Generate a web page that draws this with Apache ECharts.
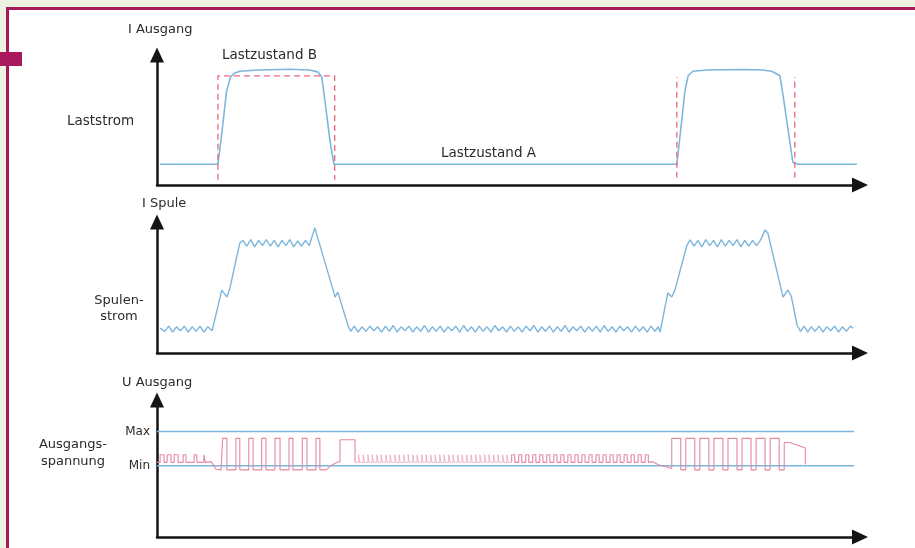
<!DOCTYPE html>
<html>
<head>
<meta charset="utf-8">
<script src="https://cdn.jsdelivr.net/npm/echarts@6/dist/echarts.min.js"></script>
<style>
  html, body { margin: 0; padding: 0; background: #eef2e2; }
  #chart { width: 915px; height: 548px; }
</style>
</head>
<body>
<div id="chart"></div>
<script>
// Shared time axis (arbitrary units)
const T_MAX = 180;

// I Ausgang: load current
const loadCurrent = [
  [0.8,1.6],[15.6,1.6],[16.6,4.0],[17.8,7.2],[18.8,8.3],[19.8,8.6],[21.2,8.75],[26,8.85],[34,8.9],[39,8.85],
  [41.2,8.7],[42.2,8.3],[43.2,6.0],[44.3,3.4],[45.3,1.6],
  [133.1,1.6],[134.0,4.0],[135.2,7.3],[136.0,8.4],[137.2,8.75],[141,8.85],[150,8.88],[155,8.85],[157.4,8.75],
  [159.5,8.4],[160.5,6.5],[161.7,4.0],[162.8,1.75],[164.1,1.6],[179.2,1.6]
];
// Load state B windows (dashed outline)
const stateB1 = [[15.6,0.4],[15.6,8.4],[45.5,8.4],[45.5,0.4]];
const stateB2Start = [[133.1,0.55],[133.1,8.3]];
const stateB2End = [[163.3,0.55],[163.3,8.3]];

// I Spule: coil current with switching ripple
const coilCurrent = [
  [0.8,1.9],[1,2.0],[2,1.65],[3,2.05],[4,1.6],[5,2.0],[6,1.7],[7,2.05],[8,1.6],[9,2.0],[10,1.65],[11,2.05],[12,1.6],[13,2.0],[14.1,1.7],
  [16.6,4.8],[17.9,4.27],[18.7,5.0],[21.2,8.4],
  [22,8.6],[23,8.15],[24,8.65],[25,8.1],[26,8.6],[27,8.2],[28,8.65],[29,8.15],[30,8.6],[31,8.1],[32,8.6],[33,8.2],
  [34,8.65],[35,8.1],[36,8.55],[37,8.15],[38,8.6],[39,8.2],[40.4,9.55],
  [45.1,4.8],[45.6,4.27],[46.3,4.65],[48.9,2.1],
  [49.6,1.65],[50.5,2.05],[51.5,1.6],[52.5,2.0],[53.5,1.65],[54.5,2.05],[55.5,1.7],[56.5,2.0],[57.5,1.6],[58.5,2.05],
  [59.5,1.65],[60.5,2.1],[61.5,1.6],[62.5,2.0],[63.5,1.7],[64.5,2.05],[65.5,1.6],[66.5,2.0],[67.5,1.65],[68.5,2.1],
  [69.5,1.6],[70.5,2.0],[71.5,1.65],[72.5,2.05],[73.5,1.6],[74.5,2.0],[75.5,1.7],[76.5,2.05],[77.5,1.6],[78.5,2.1],
  [79.5,1.65],[80.5,2.0],[81.5,1.6],[82.5,2.05],[83.5,1.65],[84.5,2.0],[85.5,1.6],[86.5,2.1],[87.5,1.7],[88.5,2.0],
  [89.5,1.6],[90.5,2.05],[91.5,1.65],[92.5,2.0],[93.5,1.6],[94.5,2.05],[95.5,1.7],[96.5,2.1],[97.5,1.6],[98.5,2.0],
  [99.5,1.65],[100.5,2.05],[101.5,1.6],[102.5,2.0],[103.5,1.65],[104.5,2.1],[105.5,1.6],[106.5,2.0],[107.5,1.7],[108.5,2.05],
  [109.5,1.6],[110.5,2.0],[111.5,1.65],[112.5,2.05],[113.5,1.6],[114.5,2.1],[115.5,1.65],[116.5,2.0],[117.5,1.6],[118.5,2.05],
  [119.5,1.7],[120.5,2.0],[121.5,1.6],[122.5,2.05],[123.5,1.65],[124.5,2.0],[125.5,1.6],[126.5,2.05],[127.5,1.65],[128.3,2.0],
  [128.8,1.6],[130.8,4.58],[131.8,4.27],[132.6,4.8],[135.7,8.24],[136.5,8.63],
  [137.5,8.15],[138.5,8.6],[139.5,8.1],[140.5,8.65],[141.5,8.2],[142.5,8.6],[143.5,8.1],[144.5,8.65],[145.5,8.15],[146.5,8.6],
  [147.5,8.2],[148.5,8.65],[149.5,8.1],[150.5,8.6],[151.5,8.15],[152.5,8.6],[153.5,8.2],[154.5,8.6],[155.7,9.4],
  [156.4,9.16],[160.3,4.27],[161.5,4.8],[162.4,4.35],[163.9,2.1],
  [164.8,1.65],[165.7,2.05],[166.6,1.6],[167.5,2.0],[168.5,1.65],[169.5,2.05],[170.5,1.6],[171.5,2.0],[172.5,1.7],
  [173.5,2.05],[174.5,1.6],[175.5,2.0],[176.5,1.65],[177.5,2.05],[178.2,1.9]
];

// U Ausgang: output voltage window limits
const uMax = 7.7;
const uMin = 5.2;
const limitSpan = [0, 178.5];

// Output voltage PWM: pulse lists as [rise, fall] times with their levels
const idleLo = 5.45, idleHi = 6.0;
const burstLo = 4.9, burstHi = 7.2;
const idlePulsesA = [[0.8,1.8],[2.6,3.6],[4.4,5.4],[6.7,7.4],[9.5,10.2],[12.0,12.4]];
const leadInA = [[13.9,5.5],[15.1,4.95],[16.4,4.9]];
const burstPulsesA = [[16.8,17.9],[20.2,21.2],[23.5,24.6],[26.8,27.9],[30.2,31.5],[33.8,34.8],[37.2,38.4],[40.7,41.7]];
const tailA = [[43.3,4.9],[44.8,5.26],[46.3,5.47],[46.85,5.47],[46.85,7.1],[50.7,7.1],[50.7,5.47]];
// short idle pulses, drawn fainter
const idlePulsesB = [
  [51.6,51.9],[52.8,53.1],[54.0,54.3],[55.1,55.4],[56.3,56.6],[57.4,57.7],[58.6,58.9],[59.7,60.0],[60.9,61.2],[62.0,62.3],
  [63.2,63.5],[64.3,64.6],[65.5,65.8],[66.6,66.9],[67.8,68.1],[68.9,69.2],[70.1,70.4],[71.2,71.5],[72.4,72.7],[73.5,73.8],
  [74.7,75.0],[75.8,76.1],[77.0,77.3],[78.1,78.4],[79.3,79.6],[80.4,80.7],[81.6,81.9],[82.7,83.0],[83.9,84.2],[85.0,85.3],
  [86.2,86.5],[87.3,87.6],[88.5,88.8],[89.6,89.9]
];
const idlePulsesC = [
  [90.8,91.6],[92.6,93.4],[94.4,95.2],[96.2,97.0],[98.0,98.8],[99.8,100.6],[101.6,102.4],[103.4,104.2],[105.2,106.0],
  [107.0,107.8],[108.8,109.6],[110.6,111.4],[112.4,113.2],[114.2,115.0],[116.0,116.8],[117.8,118.6],[119.6,120.4],
  [121.4,122.2],[123.2,124.0],[125.0,125.8]
];
const leadInB = [[126.8,5.5],[128.6,5.25],[131.8,5.0]];
const burstPulsesB = [[131.8,134.1],[135.4,137.7],[139.0,141.3],[142.6,144.9],[146.2,148.5],[149.8,152.1],[153.4,155.7],[157.0,159.3]];
const tailB = [[160.6,4.9],[160.6,6.9],[162.0,6.9],[166.0,6.5],[166.0,5.3]];

function pulseTrain(pulses, lo, hi) {
  const pts = [];
  pulses.forEach(([up, down]) => {
    pts.push([up, lo], [up, hi], [down, hi], [down, lo]);
  });
  return pts;
}

const voltageA = [].concat(
  [[0.0, idleLo]],
  pulseTrain(idlePulsesA, idleLo, idleHi),
  leadInA,
  pulseTrain(burstPulsesA, burstLo, burstHi),
  tailA
);
const voltageB = [].concat([[50.7, idleLo]], pulseTrain(idlePulsesB, idleLo, idleHi), [[90.8, idleLo]]);
const voltageC = [].concat(
  pulseTrain(idlePulsesC, idleLo, idleHi),
  leadInB,
  pulseTrain(burstPulsesB, burstLo, burstHi),
  tailB
);

const BLUE = '#7db6dc';
const RED = '#e8687f';
const PINK = '#e486a5';
const AXIS = '#141414';
const TEXT = '#2b2b2b';
const FONT = 'DejaVu Sans';

const grids = [
  { left: 157, right: 55, top: 55, bottom: 363 },
  { left: 157, right: 55, top: 222, bottom: 195 },
  { left: 157, right: 55, top: 400, bottom: 11 }
];

function xAxisFor(i) {
  return {
    type: 'value', gridIndex: i, min: 0, max: T_MAX,
    axisLine: { show: true, onZero: false, symbol: ['none', 'triangle'], symbolSize: [15, 16],
      lineStyle: { color: AXIS, width: 2.5 } },
    axisTick: { show: false }, axisLabel: { show: false }, splitLine: { show: false }
  };
}
function yAxisFor(i, extra) {
  return Object.assign({
    type: 'value', gridIndex: i, min: 0, max: 10,
    axisLine: { show: true, onZero: false, symbol: ['none', 'triangle'], symbolSize: [14, 15],
      lineStyle: { color: AXIS, width: 2.5 } },
    axisTick: { show: false }, axisLabel: { show: false }, splitLine: { show: false }
  }, extra || {});
}

const lineBase = { type: 'line', showSymbol: false, symbol: 'none', silent: true, animation: false };

const option = {
  backgroundColor: '#eef2e2',
  animation: false,
  grid: grids,
  xAxis: [xAxisFor(0), xAxisFor(1), xAxisFor(2)],
  yAxis: [
    yAxisFor(0),
    yAxisFor(1),
    yAxisFor(2, {
      axisLabel: {
        show: true, customValues: [uMin, uMax], margin: 7,
        color: TEXT, fontFamily: FONT, fontSize: 12,
        formatter: v => (v === uMax ? 'Max' : 'Min')
      }
    })
  ],
  graphic: [
    { type: 'rect', z: -10, shape: { x: 8, y: 8, width: 920, height: 560 }, style: { fill: '#ffffff' } },
    { type: 'rect', z: -9, shape: { x: 7, y: 7, width: 915, height: 3 }, style: { fill: '#a8195c' } },
    { type: 'rect', z: -9, shape: { x: 6, y: 7, width: 3, height: 545 }, style: { fill: '#a8195c' } },
    { type: 'rect', z: -9, shape: { x: 0, y: 52, width: 22, height: 14 }, style: { fill: '#a8195c' } },
    { type: 'text', left: 128, top: 23, style: { text: 'I Ausgang', font: '13px "DejaVu Sans"', fill: TEXT } },
    { type: 'text', left: 222, top: 48, style: { text: 'Lastzustand B', font: '13.5px "DejaVu Sans"', fill: TEXT } },
    { type: 'text', left: 441, top: 146, style: { text: 'Lastzustand A', font: '13.5px "DejaVu Sans"', fill: TEXT } },
    { type: 'text', left: 67, top: 114, style: { text: 'Laststrom', font: '13.5px "DejaVu Sans"', fill: TEXT } },
    { type: 'text', left: 142, top: 197, style: { text: 'I Spule', font: '13px "DejaVu Sans"', fill: TEXT } },
    { type: 'text', x: 119, y: 293, style: { text: 'Spulen-\nstrom', font: '13px "DejaVu Sans"', fill: TEXT, align: 'center', lineHeight: 16 } },
    { type: 'text', left: 122, top: 376, style: { text: 'U Ausgang', font: '13px "DejaVu Sans"', fill: TEXT } },
    { type: 'text', x: 73, y: 436, style: { text: 'Ausgangs-\nspannung', font: '13px "DejaVu Sans"', fill: TEXT, align: 'center', lineHeight: 17 } }
  ],
  series: [
    Object.assign({}, lineBase, { name: 'Laststrom', xAxisIndex: 0, yAxisIndex: 0, data: loadCurrent,
      lineStyle: { color: BLUE, width: 1.6 } }),
    Object.assign({}, lineBase, { name: 'Lastzustand B', xAxisIndex: 0, yAxisIndex: 0, data: stateB1,
      lineStyle: { color: RED, width: 1.3, type: [6, 4] } }),
    Object.assign({}, lineBase, { name: 'Lastzustand B 2a', xAxisIndex: 0, yAxisIndex: 0, data: stateB2Start,
      lineStyle: { color: RED, width: 1.3, type: [6, 4] } }),
    Object.assign({}, lineBase, { name: 'Lastzustand B 2b', xAxisIndex: 0, yAxisIndex: 0, data: stateB2End,
      lineStyle: { color: RED, width: 1.3, type: [6, 4] } }),
    Object.assign({}, lineBase, { name: 'Spulenstrom', xAxisIndex: 1, yAxisIndex: 1, data: coilCurrent,
      lineStyle: { color: BLUE, width: 1.4 } }),
    Object.assign({}, lineBase, { name: 'Max', xAxisIndex: 2, yAxisIndex: 2,
      data: limitSpan.map(t => [t, uMax]), lineStyle: { color: BLUE, width: 1.5 } }),
    Object.assign({}, lineBase, { name: 'Min', xAxisIndex: 2, yAxisIndex: 2,
      data: limitSpan.map(t => [t, uMin]), lineStyle: { color: BLUE, width: 1.5 } }),
    Object.assign({}, lineBase, { name: 'Ausgangsspannung', xAxisIndex: 2, yAxisIndex: 2, data: voltageA,
      lineStyle: { color: PINK, width: 1.1 } }),
    Object.assign({}, lineBase, { name: 'Ausgangsspannung (Leerlauf)', xAxisIndex: 2, yAxisIndex: 2, data: voltageB,
      lineStyle: { color: PINK, width: 1, opacity: 0.55 } }),
    Object.assign({}, lineBase, { name: 'Ausgangsspannung 2', xAxisIndex: 2, yAxisIndex: 2, data: voltageC,
      lineStyle: { color: PINK, width: 1.1 } })
  ]
};

const chart = echarts.init(document.getElementById('chart'), null, { renderer: 'canvas' });
chart.setOption(option);
</script>
</body>
</html>
